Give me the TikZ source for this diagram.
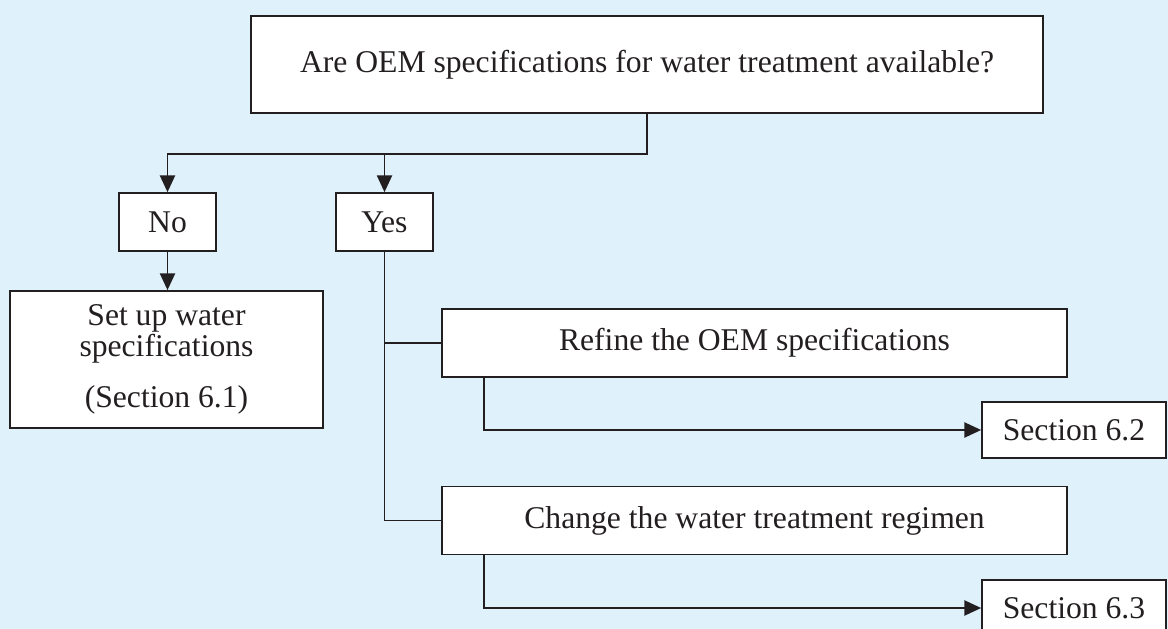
\documentclass[tikz,border=0pt]{standalone}
\usepackage{fontspec}
\setmainfont{Liberation Serif}
\usepackage{xcolor}
\usetikzlibrary{arrows.meta}
\definecolor{bgblue}{RGB}{223,241,250}
\definecolor{ink}{RGB}{35,31,32}

\begin{document}
\begin{tikzpicture}[x=0.025cm,y=-0.025cm,
  box/.style={draw=ink,fill=white,line width=1.2pt,text=ink,align=center,
    font=\fontsize{22.5}{22}\selectfont},
  link/.style={draw=ink,line width=1.2pt},
  arrow/.style={link,-{Triangle[length=0.42cm,width=0.38cm]}}]
\useasboundingbox (0,0) rectangle (1168,629);
\clip (0,0) rectangle (1168,629);
\fill[bgblue] (0,0) rectangle (1168,629);
\node[box,minimum width=19.8cm,minimum height=2.425cm] (query) at (647,64.5) {Are OEM specifications for water treatment available?};
\node[box,minimum width=2.425cm,minimum height=1.45cm] (no) at (167.5,222) {No};
\node[box,minimum width=2.425cm,minimum height=1.45cm] (yes) at (384.5,222) {Yes};
\node[box,minimum width=7.825cm,minimum height=3.425cm] (setup) at (166.5,359.5) {Set up water\\specifications\\[14pt](Section 6.1)};
\node[box,minimum width=15.625cm,minimum height=1.7cm] (refine) at (754.5,343) {Refine the OEM specifications};
\node[box,minimum width=15.625cm,minimum height=1.7cm] (change) at (754.5,520.5) {Change the water treatment regimen};
\node[box,minimum width=4.6cm,minimum height=1.4cm] (sec2) at (1074,430) {Section 6.2};
\node[box,minimum width=4.6cm,minimum height=1.4cm] (sec3) at (1074,608) {Section 6.3};
\coordinate (split) at (647,154);
\draw[arrow] (query.south) -- (split) -| (no.north);
\draw[arrow] (split -| yes.north) -- (yes.north);
\draw[arrow] (no.south) -- (no.south |- setup.north);
\draw[link] (yes.south) |- (change.west);
\draw[link] (yes.south |- refine.west) -- (refine.west);
\draw[arrow] ([xshift=1.075cm]refine.south west) |- (sec2.west);
\draw[arrow] ([xshift=1.075cm]change.south west) |- (sec3.west);
\end{tikzpicture}
\end{document}
